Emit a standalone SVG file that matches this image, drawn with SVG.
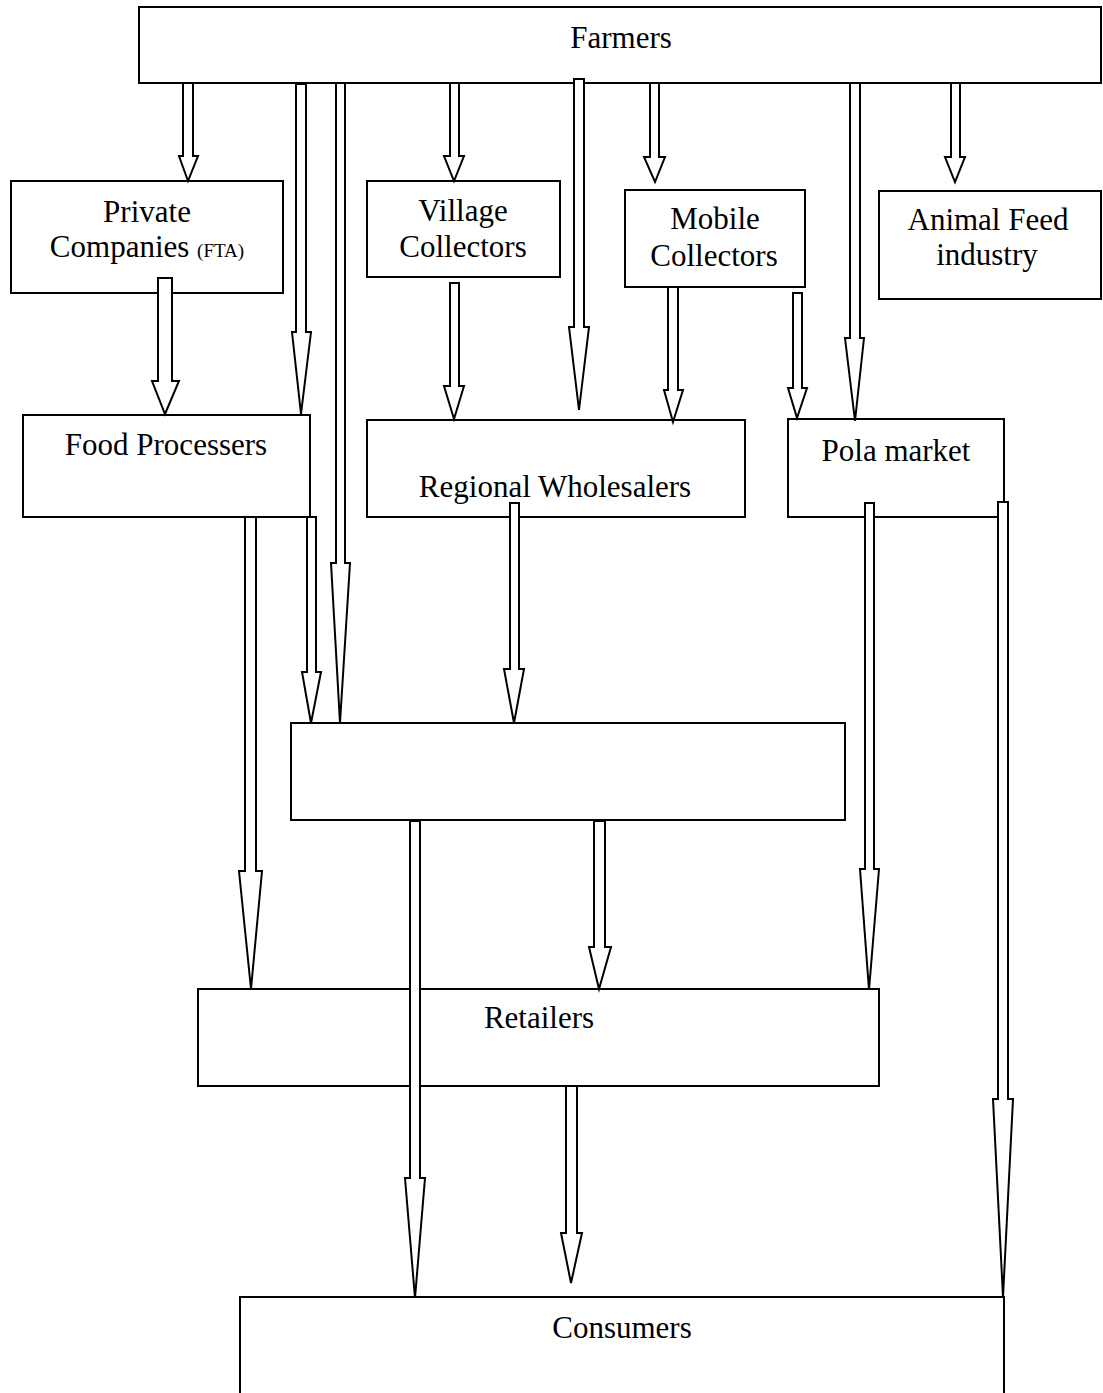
<svg xmlns="http://www.w3.org/2000/svg" width="1103" height="1393" viewBox="0 0 1103 1393">
<style>
.box{fill:#fff;stroke:#000;stroke-width:2}
.arr{fill:#fff;stroke:#000;stroke-width:2;stroke-linejoin:miter}
text{font-family:"Liberation Serif","Times New Roman",serif;font-size:31px;fill:#000;text-anchor:middle}
.sm{font-size:19px}
</style>
<rect width="1103" height="1393" fill="#fff"/>
<g id="farmers"><rect class="box" x="139" y="7" width="962" height="76"/><text x="621" y="48">Farmers</text></g>
<g id="private-companies"><rect class="box" x="11" y="181" width="272" height="112"/><text x="147" y="222">Private</text><text x="147" y="257">Companies <tspan class="sm">(FTA)</tspan></text></g>
<g id="village-collectors"><rect class="box" x="367" y="181" width="193" height="96"/><text x="463" y="221">Village</text><text x="463" y="257">Collectors</text></g>
<g id="mobile-collectors"><rect class="box" x="625" y="190" width="180" height="97"/><text x="715" y="229">Mobile</text><text x="714" y="266">Collectors</text></g>
<g id="animal-feed"><rect class="box" x="879" y="191" width="222" height="108"/><text x="988" y="230">Animal Feed</text><text x="987" y="265">industry</text></g>
<g id="food-processers"><rect class="box" x="23" y="415" width="287" height="102"/><text x="166" y="455">Food Processers</text></g>
<g id="regional-wholesalers"><rect class="box" x="367" y="420" width="378" height="97"/><text x="555" y="497">Regional Wholesalers</text></g>
<g id="pola-market"><rect class="box" x="788" y="419" width="216" height="98"/><text x="896" y="461">Pola market</text></g>
<g id="middle-box"><rect class="box" x="291" y="723" width="554" height="97"/></g>
<g id="retailers"><rect class="box" x="198" y="989" width="681" height="97"/><text x="539" y="1028">Retailers</text></g>
<g id="consumers"><rect class="box" x="240" y="1297" width="764" height="110"/><text x="622" y="1338">Consumers</text></g>
<g id="connectors">
<polygon class="arr" points="183,83 193,83 193,156 198,156 188,181 179,156 183,156"/>
<polygon class="arr" points="296,84 306,84 306,332 311,332 301,414 292,332 296,332"/>
<polygon class="arr" points="336,83 345,83 345,563 350,563 340,723 331,563 336,563"/>
<polygon class="arr" points="450,83 459,83 459,156 464,156 454,181 444,156 450,156"/>
<polygon class="arr" points="574,79 584,79 584,327 589,327 579,410 569,327 574,327"/>
<polygon class="arr" points="650,83 659,83 659,157 665,157 655,182 644,157 650,157"/>
<polygon class="arr" points="850,83 860,83 860,338 864,338 855,421 845,338 850,338"/>
<polygon class="arr" points="951,83 960,83 960,157 965,157 955,182 945,157 951,157"/>
<polygon class="arr" points="158,278 172,278 172,381 179,381 165,414 152,381 158,381"/>
<polygon class="arr" points="450,283 459,283 459,386 464,386 454,419 444,386 450,386"/>
<polygon class="arr" points="668,287 678,287 678,390 683,390 673,422 664,390 668,390"/>
<polygon class="arr" points="793,293 802,293 802,388 807,388 797,418 788,388 793,388"/>
<polygon class="arr" points="245,517 256,517 256,871 262,871 251,989 239,871 245,871"/>
<polygon class="arr" points="307,517 316,517 316,672 321,672 311,723 302,672 307,672"/>
<polygon class="arr" points="510,503 519,503 519,669 524,669 514,723 504,669 510,669"/>
<polygon class="arr" points="865,503 874,503 874,869 879,869 869,990 860,869 865,869"/>
<polygon class="arr" points="998,502 1008,502 1008,1099 1013,1099 1003,1297 993,1099 998,1099"/>
<polygon class="arr" points="410,821 420,821 420,1178 425,1178 415,1298 405,1178 410,1178"/>
<polygon class="arr" points="594,821 605,821 605,947 611,947 599,989 589,947 594,947"/>
<polygon class="arr" points="566,1086 577,1086 577,1233 582,1233 571,1283 561,1233 566,1233"/>
</g>
</svg>
